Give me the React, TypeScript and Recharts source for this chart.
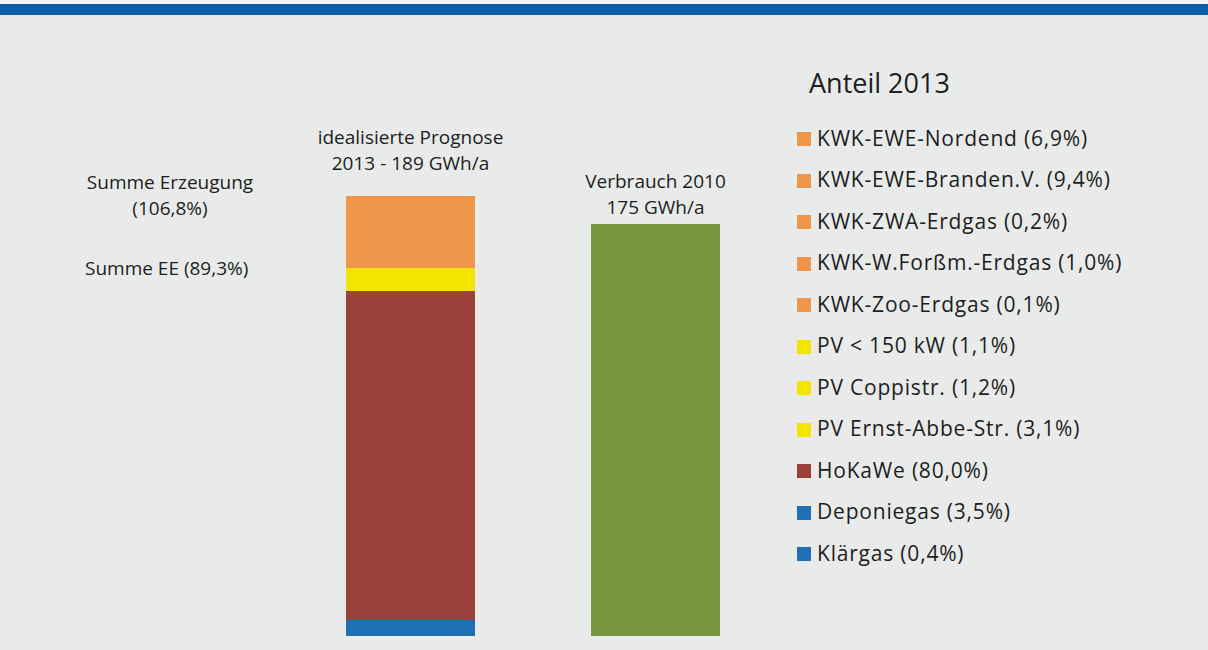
import React from 'react'
import { BarChart, Bar, XAxis, YAxis, Legend, LabelList } from 'recharts'

// Anteile in % vom Verbrauch 2010 (= 100 %)
const categories = ['Prognose 2013', 'Verbrauch 2010']
const sources = [
  'KWK-EWE-Nordend',
  'KWK-EWE-Branden.V.',
  'KWK-ZWA-Erdgas',
  'KWK-W.Forßm.-Erdgas',
  'KWK-Zoo-Erdgas',
  'PV < 150 kW',
  'PV Coppistr.',
  'PV Ernst-Abbe-Str.',
  'HoKaWe',
  'Deponiegas',
  'Klärgas',
]
const shares = [6.9, 9.4, 0.2, 1.0, 0.1, 1.1, 1.2, 3.1, 80.0, 3.5, 0.4]
const consumption = [0, 100]
const barTitles = [
  ['idealisierte Prognose', '2013 - 189 GWh/a'],
  ['Verbrauch 2010', '175 GWh/a'],
]
const sumLabels = ['Summe Erzeugung', '(106,8%)', 'Summe EE (89,3%)']
const legendTitle = 'Anteil 2013'

const ORANGE = '#f0964a'
const YELLOW = '#f3e500'
const RED = '#9b413b'
const BLUE = '#1f6fb5'
const GREEN = '#78963d'
const sourceColors = [ORANGE, ORANGE, ORANGE, ORANGE, ORANGE, YELLOW, YELLOW, YELLOW, RED, BLUE, BLUE]

const FONT = '"Open Sans", sans-serif'
const TEXT = '#1e1e1e'

const data = categories.map((name, i) => {
  const row: Record<string, string | number> = { name, verbrauch: consumption[i] }
  sources.forEach((_, k) => {
    row['s' + k] = i === 0 ? shares[k] : 0
  })
  return row
})

// distance from bar top to baseline of the second title line
const titleGaps = [26, 10]

function BarTitle(props: any) {
  const { x, y, width, value, cat } = props
  if (!value) return null
  const cx = x + width / 2
  const base = y - titleGaps[cat]
  return (
    <text x={cx} textAnchor="middle" fontFamily={FONT} fontSize={19} fill={TEXT}>
      <tspan x={cx} y={base - 26}>{barTitles[cat][0]}</tspan>
      <tspan x={cx} y={base}>{barTitles[cat][1]}</tspan>
    </text>
  )
}

function renderLegend(props: any) {
  const items = (props.payload || [])
    .filter((p: any) => p.dataKey !== 'verbrauch')
    .sort((a: any, b: any) => Number(String(a.dataKey).slice(1)) - Number(String(b.dataKey).slice(1)))
  return (
    <div style={{ fontFamily: FONT, color: TEXT, textAlign: 'left' }}>
      <div style={{ fontSize: 27, lineHeight: '34px', marginLeft: 12, marginBottom: 17 }}>{legendTitle}</div>
      {items.map((p: any) => {
        const k = Number(String(p.dataKey).slice(1))
        return (
          <div key={p.dataKey} style={{ display: 'flex', alignItems: 'center', height: 41.5 }}>
            <span style={{ width: 14, height: 14, background: p.color, marginRight: 6, marginTop: 3, flex: 'none' }} />
            <span style={{ fontSize: 21, letterSpacing: 0.8, whiteSpace: 'nowrap' }}>
              {`${p.value} (${shares[k].toFixed(1).replace('.', ',')}%)`}
            </span>
          </div>
        )
      })}
    </div>
  )
}

export default function App() {
  const stackOrder = sources.map((_, k) => k).reverse()
  return (
    <div style={{ position: 'absolute', left: 0, top: 0, width: 1208, height: 650, background: '#e8ebe9', overflow: 'hidden' }}>
      <style>{'.recharts-bar-rectangle path { shape-rendering: crispEdges; }'}</style>
      <div style={{ position: 'absolute', left: 0, top: 0, width: 1208, height: 4, background: '#f3f6f5' }} />
      <div style={{ position: 'absolute', left: 0, top: 4, width: 1208, height: 11, background: '#0b5ea9' }} />
      <div style={{ position: 'absolute', left: 50, top: 169, width: 240, textAlign: 'center', fontFamily: FONT, fontSize: 19, lineHeight: '26px', color: TEXT }}>
        {sumLabels[0]}
        <br />
        {sumLabels[1]}
      </div>
      <div style={{ position: 'absolute', left: 85, top: 255, fontFamily: FONT, fontSize: 19, lineHeight: '26px', color: TEXT }}>
        {sumLabels[2]}
      </div>
      <div style={{ position: 'absolute', left: 0, top: 0 }}>
        <BarChart width={1208} height={650} data={data} margin={{ top: 142, right: 430, bottom: 14, left: 288 }}>
          <XAxis dataKey="name" hide />
          <YAxis hide domain={[0, 120]} />
          <Legend
            content={renderLegend}
            layout="vertical"
            verticalAlign="middle"
            align="center"
            wrapperStyle={{ left: 797, top: 66, width: 410 }}
          />
          {stackOrder.map((k) => (
            <Bar
              key={k}
              dataKey={'s' + k}
              name={sources[k]}
              stackId="a"
              fill={sourceColors[k]}
              barSize={129}
              isAnimationActive={false}
            >
              {k === 0 && <LabelList dataKey={'s' + k} content={(p: any) => <BarTitle {...p} cat={0} />} />}
            </Bar>
          ))}
          <Bar dataKey="verbrauch" name="Verbrauch 2010" stackId="a" fill={GREEN} barSize={129} isAnimationActive={false}>
            <LabelList dataKey="verbrauch" content={(p: any) => <BarTitle {...p} cat={1} />} />
          </Bar>
        </BarChart>
      </div>
    </div>
  )
}
